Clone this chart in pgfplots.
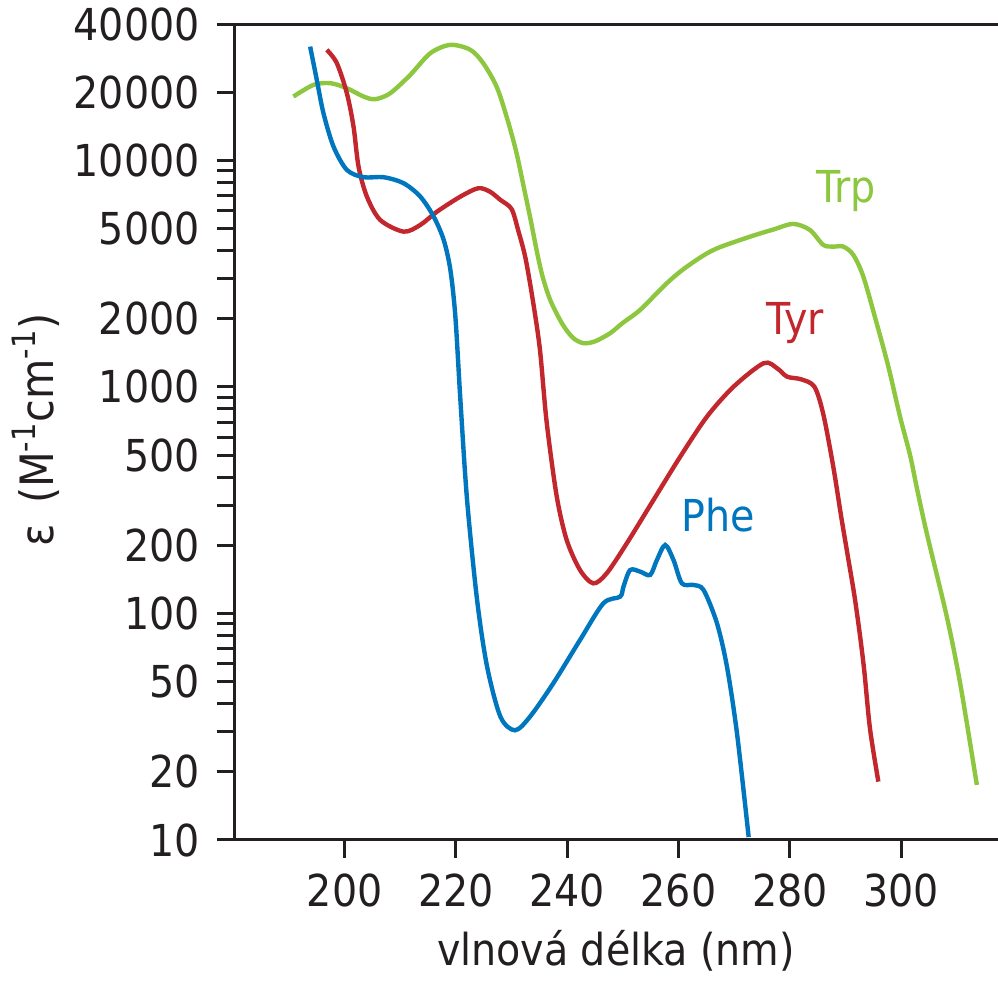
\documentclass[border=0pt]{standalone}
\usepackage{pgfplots}
\pgfplotsset{compat=1.18}
\usepackage{fontspec}
\setmainfont{DejaVu Sans Condensed}
\definecolor{trp}{RGB}{141,198,63}
\definecolor{tyr}{RGB}{194,39,45}
\definecolor{phe}{RGB}{0,118,190}
\definecolor{axc}{RGB}{35,31,32}
\newcommand{\lblfont}{\fontsize{22}{26}\selectfont}
\begin{document}
\begin{tikzpicture}
\begin{axis}[name=ax, at={(0,0)}, anchor=south west,
  scale only axis, width=381.5pt, height=408pt,
  xmin=180.3, xmax=317.4, ymode=log, ymin=10, ymax=40000,
  axis x line=box, axis y line=left,
  x axis line style={-}, y axis line style={-},
  axis line style={line width=1.5pt, axc},
  xtick={200,220,240,260,280,300},
  xticklabels={200,220,240,260,280,300},
  xtick pos=bottom, ytick pos=left,
  ytick={10,20,50,100,200,500,1000,2000,5000,10000,20000,40000},
  yticklabels={10,20,50,100,200,500,1000,2000,5000,10000,20000,40000},
  minor ytick={30,40,60,70,80,90,300,400,600,700,800,900,3000,4000,6000,7000,8000,9000},
  tick align=outside, major tick length=9pt, minor tick length=9pt,
  every tick/.style={line width=1.5pt, axc},
  minor tick style={line width=1.5pt, axc},
  tick label style={font=\lblfont, text=axc, inner sep=0pt},
  yticklabel style={anchor=east, xshift=-8.5pt},
  xticklabel style={anchor=north, yshift=-7.5pt},
  every axis plot/.append style={line width=2.2pt, smooth},
]
\addplot[trp] table {
190.8 19140
194.4 21540
197.4 21930
200.4 20830
203.4 19140
205.5 18630
208.2 19800
211.8 23850
215.4 29740
219.0 32360
222.6 30770
224.9 26870
227.3 21180
229.1 15610
230.8 11000
232.2 7600
233.4 5500
234.6 3900
235.6 3050
237.0 2400
239.1 1900
241.0 1650
242.9 1560
245.0 1590
247.7 1726
250.0 1920
253.1 2188
257.9 2871
261.5 3397
266.3 4028
272.9 4609
277.0 4950
280.6 5243
283.6 4932
286.0 4237
287.8 4164
289.6 4164
291.4 3828
293.2 3070
295.6 1910
297.7 1229
299.8 739
301.6 500
302.8 360
304.6 226
308.2 96.8
310.6 49.2
313.6 17.5
};
\addplot[tyr] table {
196.8 30770
198.6 26870
200.4 19800
201.6 14090
202.5 9390
204.0 6920
206.4 5458
210.6 4848
213.6 5190
216.6 5940
220.8 6920
224.0 7535
226.1 7280
228.0 6690
230.0 6100
231.2 4900
232.5 3700
233.9 2342
235.1 1456
236.3 700
238.1 330
239.9 211
242.3 155.5
244.7 135.8
247.1 150.5
250.7 204
255.5 317
260.3 492
265.1 739
269.9 1003
275.3 1273
277.7 1209
279.5 1110
282.0 1081
284.4 1003
286.0 760
287.8 445
289.2 270
290.4 180
291.6 120
292.6 80
293.4 55
294.4 31
295.9 18.1
};
\addplot[phe] table {
193.8 31800
195.0 22650
196.2 16140
198.0 11510
200.4 9080
203.4 8430
207.0 8430
210.6 7930
213.6 6920
216.0 5650
217.8 4457
219.0 3286
219.9 2042
220.8 876
222.0 317
223.8 114.7
225.6 58.2
228.0 35.0
230.6 30.5
233.3 35.0
237.5 49.2
242.3 76.4
246.5 110.9
249.5 118.6
250.1 131.3
251.3 155.5
253.1 153
254.9 147.9
256.1 172
257.6 200.5
259.1 172
260.6 135.8
262.7 133.6
264.5 126.9
266.9 90.6
268.7 58.2
270.5 29.6
272.6 10.3
};
\node[anchor=base, text=trp, font=\lblfont] at (axis cs:290.1,6486) {Trp};
\node[anchor=base, text=tyr, font=\lblfont] at (axis cs:281.0,1697) {Tyr};
\node[anchor=base, text=phe, font=\lblfont] at (axis cs:267.1,229) {Phe};
\end{axis}
\node[anchor=base, font=\lblfont, text=axc] at ([xshift=190.5pt, yshift=-63pt]ax.south west) {vlnová délka (nm)};
\node[rotate=90, anchor=base, font=\fontsize{23}{27}\selectfont, text=axc] at ([xshift=-90.5pt, yshift=205pt]ax.south west) {ε\hspace{0.45em}(M\textsuperscript{-1}cm\textsuperscript{-1})};
\pgfresetboundingbox
\path[use as bounding box] ([xshift=-117.5pt,yshift=-70.5pt]ax.south west) rectangle ([xshift=381.5pt,yshift=420pt]ax.south west);
\end{tikzpicture}
\end{document}
